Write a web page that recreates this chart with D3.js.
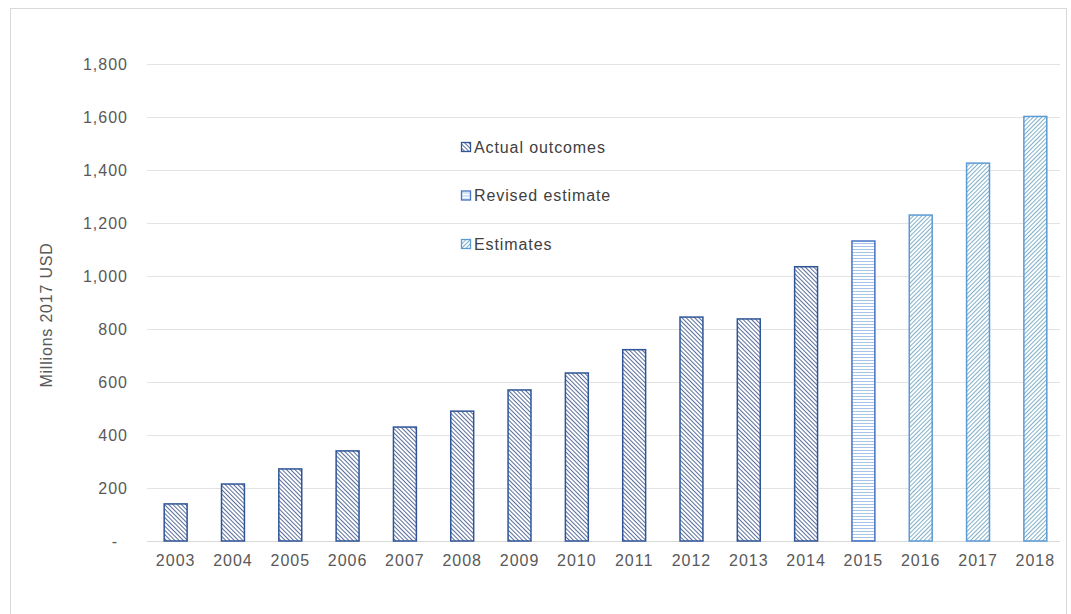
<!DOCTYPE html>
<html>
<head>
<meta charset="utf-8">
<script src="https://cdn.jsdelivr.net/npm/d3@7/dist/d3.min.js"></script>
<style>
  body { margin: 0; background: #fff; }
  svg { font-family: "Liberation Sans", Arial, sans-serif; }
</style>
</head>
<body>
<svg id="chart" width="1071" height="614"></svg>
<script>
// data
var years = ["2003","2004","2005","2006","2007","2008","2009","2010","2011","2012","2013","2014","2015","2016","2017","2018"];
var values = [140, 215, 272, 340, 430, 490, 570, 634, 722, 845, 838, 1035, 1132, 1230, 1426, 1602];
var kinds = ["actual","actual","actual","actual","actual","actual","actual","actual","actual","actual","actual","actual","revised","est","est","est"];
var yTicks = [0, 200, 400, 600, 800, 1000, 1200, 1400, 1600, 1800];
var legendKeys = ["actual", "revised", "est"];
var legendLabels = ["Actual outcomes", "Revised estimate", "Estimates"];

var svg = d3.select("#chart");
var margin = {left: 147, right: 0, top: 64, bottom: 73};
var W = 1071, H = 614;

// outer frame
svg.append("rect").attr("x", 10.5).attr("y", 8.5).attr("width", 1056).attr("height", 610)
  .attr("fill", "none").attr("stroke", "#d9d9d9");

var defs = svg.append("defs");
var styles = {
  actual: {stroke: "#2f5597", line: "#5a6f9c", angle: 45, gap: 3},
  revised: {stroke: "#4472c4", line: "#a8c4ea", angle: 0, gap: 3},
  est: {stroke: "#5b9bd5", line: "#80b0c9", angle: -45, gap: 3}
};
Object.keys(styles).forEach(function(k) {
  var s = styles[k];
  var p = defs.append("pattern").attr("id", "pat-" + k)
    .attr("patternUnits", "userSpaceOnUse").attr("width", s.gap).attr("height", s.gap)
    .attr("patternTransform", "rotate(" + s.angle + ")");
  p.append("rect").attr("width", s.gap).attr("height", s.gap).attr("fill", "#fff");
  p.append("line").attr("x1", 0).attr("x2", s.gap).attr("y1", 0.5).attr("y2", 0.5)
    .attr("stroke", s.line).attr("stroke-width", 1);
});

var x = d3.scaleBand().domain(years).range([margin.left, 1064]).paddingInner(0.6).paddingOuter(0.3);
var y = d3.scaleLinear().domain([0, 1800]).range([H - margin.bottom, margin.top]);

// gridlines
svg.append("g").selectAll("line").data(yTicks).join("line")
  .attr("x1", margin.left).attr("x2", 1060)
  .attr("y1", function(d) { return Math.round(y(d)) + 0.5; })
  .attr("y2", function(d) { return Math.round(y(d)) + 0.5; })
  .attr("stroke", "#e3e3e3");

// y axis labels
var yAxis = d3.axisLeft(y).tickValues(yTicks).tickSize(0).tickPadding(19)
  .tickFormat(function(d) { return d == 0 ? "-" : d3.format(",")(d); });
var ga = svg.append("g").attr("transform", "translate(" + margin.left + ",0)").call(yAxis);
ga.select(".domain").remove();
ga.selectAll("text").attr("fill", "#595959").attr("font-size", "16px").attr("letter-spacing", "1px")
  .attr("font-family", "Liberation Sans, Arial, sans-serif");
ga.selectAll(".tick").filter(function(d) { return d == 0; }).select("text").attr("dx", -10);

// x axis
var xAxis = d3.axisBottom(x).tickSize(0).tickPadding(14);
var gx = svg.append("g").attr("transform", "translate(0," + y(0) + ")").call(xAxis);
gx.select(".domain").attr("stroke", "#d9d9d9").attr("d", "M" + margin.left + ",0.5H1060");
gx.selectAll("text").attr("fill", "#595959").attr("font-size", "16px").attr("letter-spacing", "1px")
  .attr("font-family", "Liberation Sans, Arial, sans-serif");

// bars
svg.append("g").selectAll("rect").data(years).join("rect")
  .attr("x", function(d) { return x(d); })
  .attr("width", x.bandwidth())
  .attr("y", function(d, i) { return y(values[i]); })
  .attr("height", function(d, i) { return y(0) - y(values[i]); })
  .attr("fill", function(d, i) { return "url(#pat-" + kinds[i] + ")"; })
  .attr("stroke", function(d, i) { return styles[kinds[i]].stroke; })
  .attr("stroke-width", 1.5);

// y title
svg.append("text").attr("transform", "translate(52," + 315 + ") rotate(-90)")
  .attr("text-anchor", "middle").attr("fill", "#595959").attr("font-size", "16px")
  .attr("letter-spacing", "0.8px")
  .text("Millions 2017 USD");

// legend
var lg = svg.append("g").selectAll("g").data(legendKeys).join("g")
  .attr("transform", function(d, i) { return "translate(461," + (147 + i * 48.5) + ")"; });
lg.append("rect").attr("x", 0.5).attr("y", -4.5).attr("width", 9).attr("height", 9)
  .attr("fill", function(d) { return "url(#pat-" + d + ")"; })
  .attr("stroke", function(d) { return styles[d].stroke; }).attr("stroke-width", 1.3);
lg.append("text").attr("x", 13).attr("dy", "0.35em").attr("fill", "#404040")
  .attr("font-size", "16px").attr("letter-spacing", "0.9px")
  .text(function(d, i) { return legendLabels[i]; });
</script>
</body>
</html>
